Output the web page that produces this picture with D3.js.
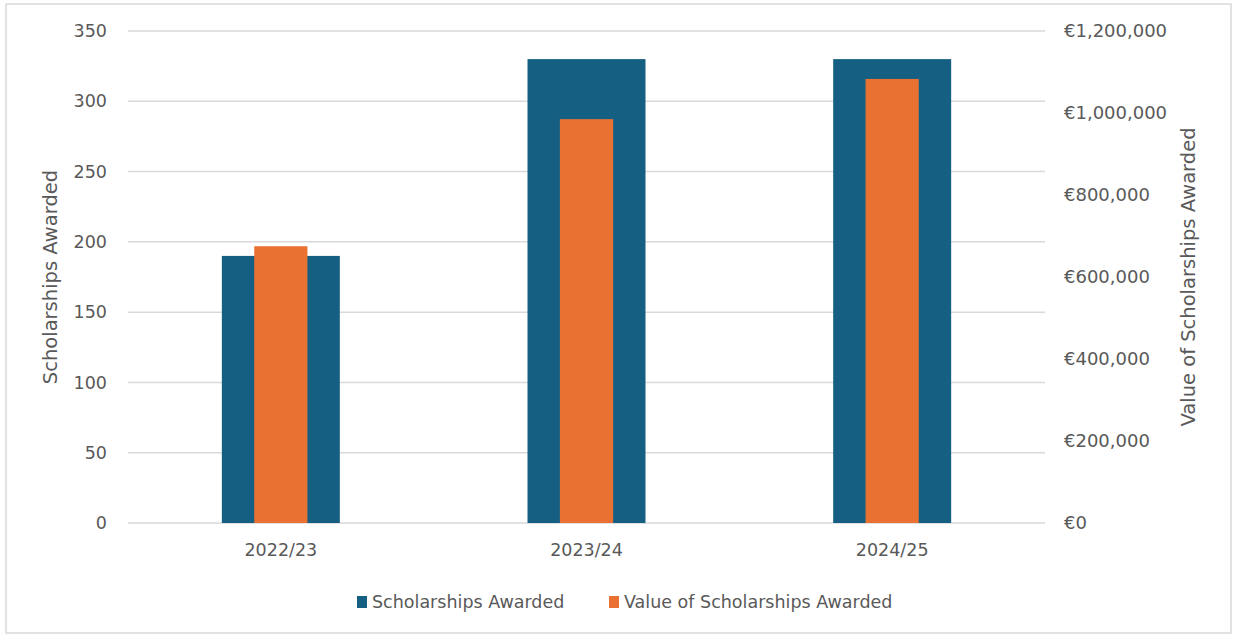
<!DOCTYPE html>
<html>
<head>
<meta charset="utf-8">
<script src="https://cdn.jsdelivr.net/npm/d3@7"></script>
<style>
    body { margin: 0; background: #fff; }
    text { font-family: "DejaVu Sans", sans-serif; fill: #595959; }
</style>
</head>
<body>
<svg id="chart" width="1235" height="637"></svg>
<script>
var years = ["2022/23", "2023/24", "2024/25"];
var scholarships = [190, 330, 330];
var scholarshipValues = [675000, 985000, 1083000];
var leftTicks = [0, 50, 100, 150, 200, 250, 300, 350];
var rightTicks = [0, 200000, 400000, 600000, 800000, 1000000, 1200000];
var seriesNames = ["Scholarships Awarded", "Value of Scholarships Awarded"];
var seriesColors = ["#156082", "#e97132"];

(function () {
    var svg = d3.select("#chart"),
        plot = { left: 128, right: 1045, top: 31, bottom: 523 };

    // outer frame
    svg.append("rect")
        .attr("x", 6).attr("y", 4)
        .attr("width", 1225).attr("height", 629)
        .attr("fill", "#fff")
        .attr("stroke", "#d9d9d9")
        .attr("stroke-width", 1.5);

    var x = d3.scaleBand()
        .domain(years)
        .range([plot.left, plot.right])
        .padding(0);

    var y = d3.scaleLinear()
        .domain([0, 350])
        .range([plot.bottom, plot.top]);

    var y2 = d3.scaleLinear()
        .domain([0, 1200000])
        .range([plot.bottom, plot.top]);

    // gridlines
    svg.append("g")
        .selectAll("line")
        .data(leftTicks)
        .enter().append("line")
        .attr("x1", plot.left).attr("x2", plot.right)
        .attr("y1", function (d) { return y(d); })
        .attr("y2", function (d) { return y(d); })
        .attr("stroke", "#d9d9d9")
        .attr("stroke-width", 1.5);

    // left axis
    var left = svg.append("g")
        .attr("transform", "translate(" + (plot.left - 21) + ",0)")
        .call(d3.axisLeft(y).tickValues(leftTicks).tickSize(0).tickPadding(0));
    left.select(".domain").remove();
    left.selectAll("text").style("font-size", "17.5px").style("fill", "#595959");

    // right axis
    var euro = d3.format(",");
    var right = svg.append("g")
        .attr("transform", "translate(" + (plot.right + 19) + ",0)")
        .call(d3.axisRight(y2).tickValues(rightTicks).tickSize(0).tickPadding(0)
            .tickFormat(function (d) { return "€" + euro(d); }));
    right.select(".domain").remove();
    right.selectAll("text").style("font-size", "18px").style("fill", "#595959");

    // category axis
    var bottom = svg.append("g")
        .attr("transform", "translate(0," + plot.bottom + ")")
        .call(d3.axisBottom(x).tickSize(0).tickPadding(21));
    bottom.select(".domain").remove();
    bottom.selectAll("text").style("font-size", "17.5px").style("fill", "#595959");

    // blue bars (left axis)
    var wideW = x.bandwidth() * 0.386;
    svg.append("g")
        .selectAll("rect")
        .data(scholarships)
        .enter().append("rect")
        .attr("x", function (d, i) { return x(years[i]) + (x.bandwidth() - wideW) / 2; })
        .attr("y", function (d) { return y(d); })
        .attr("width", wideW)
        .attr("height", function (d) { return y(0) - y(d); })
        .attr("fill", seriesColors[0]);

    // orange bars (right axis)
    var narrowW = x.bandwidth() * 0.174;
    svg.append("g")
        .selectAll("rect")
        .data(scholarshipValues)
        .enter().append("rect")
        .attr("x", function (d, i) { return x(years[i]) + (x.bandwidth() - narrowW) / 2; })
        .attr("y", function (d) { return y2(d); })
        .attr("width", narrowW)
        .attr("height", function (d) { return y2(0) - y2(d); })
        .attr("fill", seriesColors[1]);

    // axis titles
    var midY = (plot.top + plot.bottom) / 2;
    svg.append("text")
        .attr("transform", "translate(57," + midY + ") rotate(-90)")
        .attr("text-anchor", "middle")
        .style("font-size", "19.5px")
        .text(seriesNames[0]);

    svg.append("text")
        .attr("transform", "translate(1195," + midY + ") rotate(-90)")
        .attr("text-anchor", "middle")
        .style("font-size", "19.5px")
        .text(seriesNames[1]);

    // legend
    var legendX = [357, 609];
    var legend = svg.append("g")
        .selectAll("g")
        .data(seriesNames)
        .enter().append("g")
        .attr("transform", function (d, i) { return "translate(" + legendX[i] + ",602)"; });

    legend.append("rect")
        .attr("x", 0).attr("y", -6)
        .attr("width", 10).attr("height", 12)
        .attr("fill", function (d, i) { return seriesColors[i]; });

    legend.append("text")
        .attr("x", 15)
        .attr("dy", "0.35em")
        .style("font-size", "17.5px")
        .text(function (d) { return d; });
})();
</script>
</body>
</html>
